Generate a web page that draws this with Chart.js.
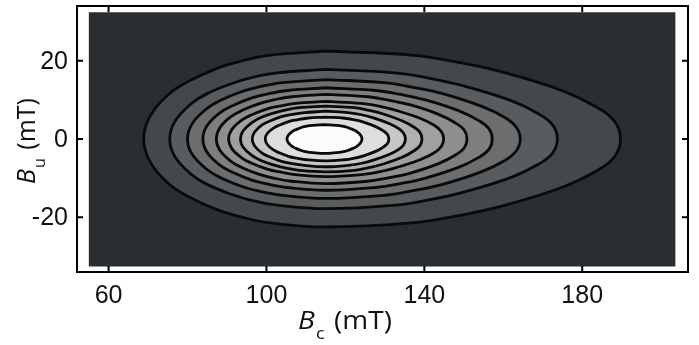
<!DOCTYPE html>
<html>
<head>
<meta charset="utf-8">
<script src="https://cdn.jsdelivr.net/npm/chart.js@4"></script>
<style>
    html, body { margin: 0; padding: 0; background: #fff; }
    #wrap { position: relative; width: 699px; height: 345px; }
</style>
</head>
<body>
<div id="wrap"><canvas id="forcChart"></canvas></div>
<script>
// Axis ticks and ranges (mT)
const xTicks = [60, 100, 140, 180];
const yTicks = [-20, 0, 20];
const xRange = [52, 206.8];
const yRange = [-34, 34];

// Extent of the measured (dark) map
const mapBc = [55, 203.6];
const mapBu = [-32.6, 32.4];

// Contour lines, outermost first. Upper half only, [Bc, Bu] from left tip to right tip
const contour1 = [[68.9, 0], [70.4, 5.6], [75.1, 11.3], [80.0, 14.6], [87.3, 18.0], [93.1, 19.8], [100.6, 21.4], [115, 22.5], [137.4, 21.4], [148.6, 19.6], [159.8, 17.1], [174.8, 12.4], [183.7, 8.1], [188.2, 4.5], [189.7, 0]];
const contour2 = [[75.5, 0], [76.8, 4.5], [80.8, 8.9], [85.0, 11.6], [91.3, 14.2], [96.2, 15.7], [102.7, 16.9], [115, 17.8], [132.6, 16.9], [141.4, 15.5], [150.2, 13.5], [162.0, 9.8], [169.0, 6.4], [172.5, 3.6], [173.7, 0]];
const contour3 = [[80.0, 0], [81.1, 3.8], [84.7, 7.6], [88.4, 9.9], [94.0, 12.2], [98.4, 13.4], [104.1, 14.4], [115, 15.2], [129.8, 14.4], [137.2, 13.2], [144.6, 11.6], [154.4, 8.4], [160.4, 5.5], [163.3, 3.0], [164.3, 0]];
const contour4 = [[83.9, 0], [84.9, 3.3], [88.1, 6.6], [91.4, 8.5], [96.3, 10.5], [100.2, 11.5], [105.3, 12.4], [115, 13.1], [127.7, 12.4], [134.0, 11.4], [140.3, 10.0], [148.8, 7.2], [153.8, 4.7], [156.4, 2.6], [157.2, 0]];
const contour5 = [[87.3, 0], [88.2, 2.9], [91.0, 5.7], [94.0, 7.4], [98.4, 9.1], [101.8, 10.0], [106.4, 10.8], [115, 11.4], [125.7, 10.8], [131.1, 9.9], [136.5, 8.7], [143.6, 6.3], [147.9, 4.1], [150.1, 2.3], [150.8, 0]];
const contour6 = [[90.4, 0], [91.2, 2.4], [93.7, 4.8], [96.3, 6.2], [100.2, 7.7], [103.3, 8.4], [107.3, 9.1], [115, 9.6], [124.0, 9.1], [128.5, 8.4], [132.9, 7.3], [138.9, 5.3], [142.5, 3.5], [144.3, 1.9], [144.9, 0]];
const contour7 = [[93.4, 0], [94.1, 2.1], [96.3, 4.2], [98.6, 5.5], [102.0, 6.7], [104.7, 7.4], [108.3, 8.0], [115, 8.4], [122.3, 8.0], [126.0, 7.3], [129.6, 6.4], [134.5, 4.6], [137.4, 3.0], [138.9, 1.7], [139.4, 0]];
const contour8 = [[96.4, 0], [97.0, 1.8], [98.9, 3.6], [100.9, 4.6], [103.8, 5.7], [106.2, 6.2], [109.2, 6.7], [115, 7.1], [121.1, 6.7], [124.1, 6.2], [127.1, 5.4], [131.2, 3.9], [133.6, 2.6], [134.8, 1.4], [135.2, 0]];
const contour9 = [[99.7, 0], [100.2, 1.4], [101.8, 2.8], [103.4, 3.6], [105.8, 4.5], [107.7, 4.9], [110.2, 5.3], [115, 5.6], [119.8, 5.3], [122.2, 4.9], [124.6, 4.3], [127.8, 3.1], [129.7, 2.0], [130.7, 1.1], [131.0, 0]];
const contour10 = [[105.2, 0], [105.5, 0.9], [106.5, 1.9], [107.5, 2.4], [109.0, 3.0], [110.2, 3.3], [111.7, 3.5], [114.7, 3.7], [117.7, 3.5], [119.2, 3.3], [120.4, 3.0], [121.9, 2.4], [122.9, 1.9], [123.9, 0.9], [124.2, 0]];
const contours = [contour1, contour2, contour3, contour4, contour5, contour6, contour7, contour8, contour9, contour10];

// Grey level inside each contour
const bandColors = ['#45484b', '#595c5e', '#6b6d6f', '#7c7e80', '#8d8f90', '#9ea0a1', '#b0b1b2', '#c6c7c7', '#dedede', '#fbfbfb'];
const mapColor = '#2b2e31';

// closed loop starting at the top of the contour (upper half mirrored for the lower half)
function loopPoints(upper) {
    let top = 0;
    upper.forEach((p, i) => { if (p[1] > upper[top][1]) top = i; });
    const pts = [];
    for (let i = top; i >= 0; i--) pts.push({ x: upper[i][0], y: upper[i][1] });
    for (let i = 1; i < upper.length - 1; i++) pts.push({ x: upper[i][0], y: -upper[i][1] });
    for (let i = upper.length - 1; i >= top; i--) pts.push({ x: upper[i][0], y: upper[i][1] });
    return pts;
}

const datasets = [{
    label: 'map',
    data: [
        { x: mapBc[0], y: mapBu[0] }, { x: mapBc[1], y: mapBu[0] },
        { x: mapBc[1], y: mapBu[1] }, { x: mapBc[0], y: mapBu[1] }
    ],
    showLine: true,
    tension: 0,
    borderWidth: 0,
    pointRadius: 0,
    fill: 'shape',
    backgroundColor: mapColor,
    order: 100
}];
contours.forEach((c, i) => {
    datasets.push({
        label: 'contour ' + (i + 1),
        data: loopPoints(c),
        showLine: true,
        tension: 0.4,
        borderColor: '#0a0a0a',
        borderWidth: 2.8,
        pointRadius: 0,
        fill: 'shape',
        backgroundColor: bandColors[i],
        order: contours.length - i
    });
});

// Axis title: italic B, small subscript, then " (mT)"
function drawTitle(ctx, sub) {
    const big = '25px "Open Sans"';
    ctx.font = 'italic ' + big;
    const wB = ctx.measureText('B').width;
    ctx.font = '16px "Open Sans"';
    const wS = ctx.measureText(sub).width;
    ctx.font = big;
    const wR = ctx.measureText(' (mT)').width;
    let x = -(wB + wS + 3 + wR) / 2;
    ctx.textAlign = 'left';
    ctx.textBaseline = 'alphabetic';
    ctx.font = 'italic ' + big;
    ctx.fillText('B', x, 0);
    x += wB + 1;
    ctx.font = '16px "Open Sans"';
    ctx.fillText(sub, x, 10);
    x += wS + 2;
    ctx.font = big;
    ctx.fillText(' (mT)', x, 0);
}

// Frame, inward ticks, tick labels and axis titles
const framePlugin = {
    id: 'framePlugin',
    afterDraw(chart) {
        const ctx = chart.ctx;
        const a = chart.chartArea;
        const xs = chart.scales.x, ys = chart.scales.y;
        ctx.save();
        ctx.strokeStyle = '#000';
        ctx.lineWidth = 2;
        ctx.strokeRect(a.left, a.top, a.right - a.left, a.bottom - a.top);
        ctx.beginPath();
        xTicks.forEach(v => {
            const px = xs.getPixelForValue(v);
            ctx.moveTo(px, a.bottom); ctx.lineTo(px, a.bottom - 6);
            ctx.moveTo(px, a.top); ctx.lineTo(px, a.top + 6);
        });
        yTicks.forEach(v => {
            const py = ys.getPixelForValue(v);
            ctx.moveTo(a.left, py); ctx.lineTo(a.left + 6, py);
            ctx.moveTo(a.right, py); ctx.lineTo(a.right - 6, py);
        });
        ctx.stroke();

        ctx.fillStyle = '#111';
        ctx.font = '25px "Liberation Sans"';
        ctx.textAlign = 'center';
        ctx.textBaseline = 'alphabetic';
        xTicks.forEach(v => ctx.fillText(String(v), xs.getPixelForValue(v), a.bottom + 31));
        ctx.textAlign = 'right';
        ctx.textBaseline = 'middle';
        yTicks.forEach(v => ctx.fillText(String(v), a.left - 9, ys.getPixelForValue(v) + 1));

        ctx.save();
        ctx.translate(345, 329);
        ctx.scale(1.12, 1);
        drawTitle(ctx, 'c');
        ctx.restore();

        ctx.save();
        ctx.translate(35, 141);
        ctx.rotate(-Math.PI / 2);
        drawTitle(ctx, 'u');
        ctx.restore();
        ctx.restore();
    }
};

const forcChart = new Chart(document.getElementById('forcChart'), {
    type: 'scatter',
    data: { datasets: datasets },
    options: {
        responsive: true,
        maintainAspectRatio: false,
        animation: false,
        layout: { padding: { left: 77, right: 11, top: 6, bottom: 73 } },
        plugins: {
            legend: { display: false },
            tooltip: { enabled: false }
        },
        scales: {
            x: { type: 'linear', min: xRange[0], max: xRange[1], display: false },
            y: { type: 'linear', min: yRange[0], max: yRange[1], display: false }
        }
    },
    plugins: [framePlugin]
});
</script>
</body>
</html>
